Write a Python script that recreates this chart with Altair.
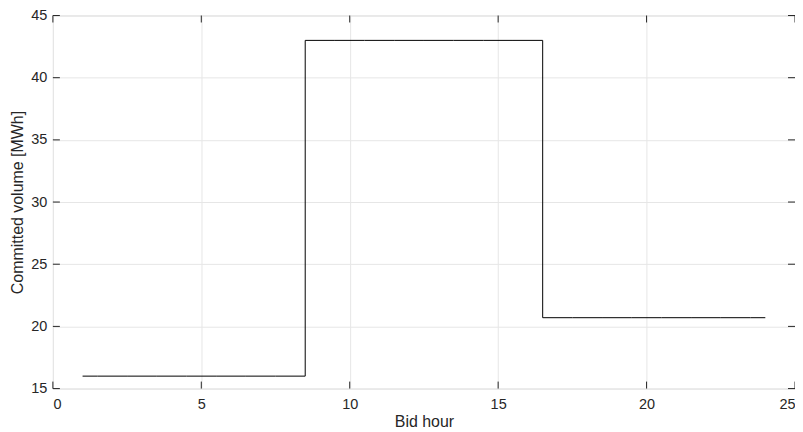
import altair as alt
import pandas as pd

hours = list(range(1, 25))
volume = [16.0] * 8 + [43.0] * 8 + [20.7] * 8

x_ticks = [0, 5, 10, 15, 20, 25]
y_ticks = [15, 20, 25, 30, 35, 40, 45]

df = pd.DataFrame({"hour": hours, "volume": volume})

W, H = 744, 374
FONT = "Liberation Sans"
GRAY = "#262626"
LFS = 14.5
TFS = 16

xs = alt.Scale(domain=[0, 25], nice=False, zero=False)
ys = alt.Scale(domain=[15, 45], nice=False, zero=False)

base = alt.Chart(df)

line = base.mark_line(interpolate="step", color="black", strokeWidth=1).encode(
    x=alt.X("hour:Q", scale=xs, title="Bid hour",
            axis=alt.Axis(values=x_ticks, grid=True, gridColor="#e6e6e6", ticks=False,
                          domain=False, labelPadding=9, labelFontSize=LFS, labelFont=FONT,
                          labelColor=GRAY, titleFont=FONT, titleFontSize=TFS,
                          titleFontWeight="normal", titleColor=GRAY, titlePadding=3)),
    y=alt.Y("volume:Q", scale=ys, title="Committed volume [MWh]",
            axis=alt.Axis(values=y_ticks, grid=True, gridColor="#e6e6e6", ticks=False,
                          domain=False, labelPadding=6, labelFontSize=LFS, labelFont=FONT,
                          labelColor=GRAY, titleFont=FONT, titleFontSize=TFS,
                          titleFontWeight="normal", titleColor=GRAY, titlePadding=5)),
)

xt = pd.DataFrame({"t": x_ticks})
yt = pd.DataFrame({"t": y_ticks})
TL = 7
tick_style = dict(color=GRAY, strokeWidth=1)

xb = alt.Chart(xt).mark_rule(**tick_style).encode(
    x=alt.X("t:Q", scale=xs), y=alt.value(H), y2=alt.value(H - TL))
xtop = alt.Chart(xt).mark_rule(**tick_style).encode(
    x=alt.X("t:Q", scale=xs), y=alt.value(0), y2=alt.value(TL))
yl = alt.Chart(yt).mark_rule(**tick_style).encode(
    y=alt.Y("t:Q", scale=ys), x=alt.value(0), x2=alt.value(TL))
yr = alt.Chart(yt).mark_rule(**tick_style).encode(
    y=alt.Y("t:Q", scale=ys), x=alt.value(W), x2=alt.value(W - TL))

chart = alt.layer(line, xb, xtop, yl, yr).properties(
    width=W, height=H,
    autosize=alt.AutoSizeParams(type="none"),
    padding={"left": 45, "top": 7, "right": 0, "bottom": 40},
).configure_view(stroke=GRAY, strokeWidth=1).configure(background="white")

chart.save("out.html", embed_options={"renderer": "svg", "actions": False})
